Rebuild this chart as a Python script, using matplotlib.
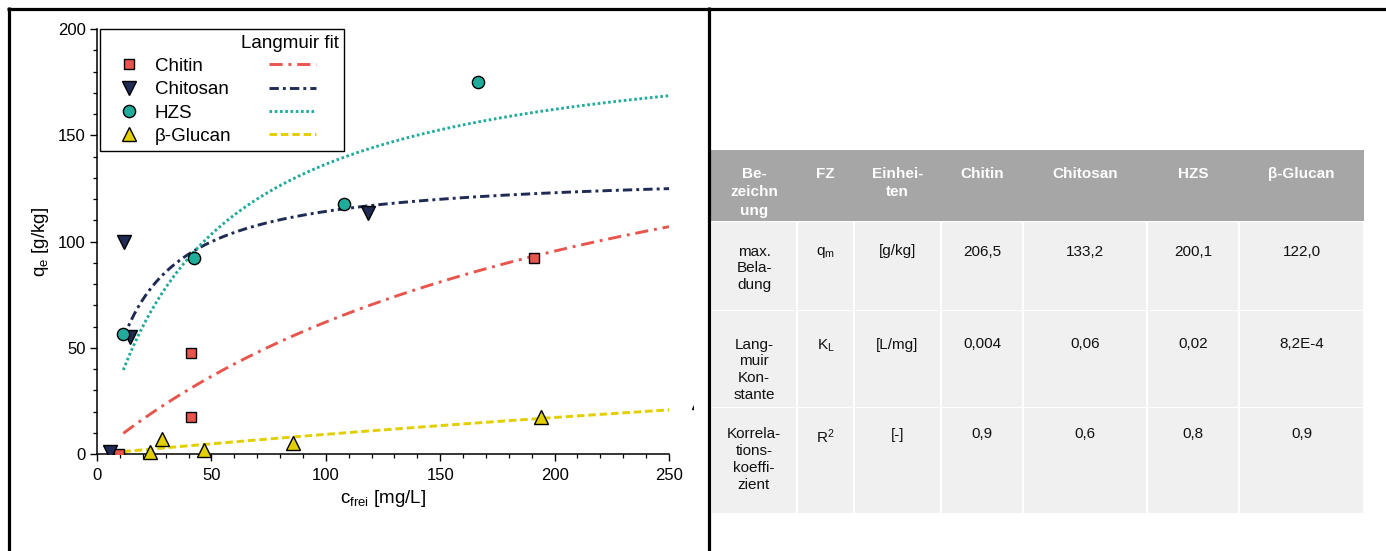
import numpy as np
import matplotlib
matplotlib.use("Agg")
import matplotlib.pyplot as plt
from matplotlib.lines import Line2D
from matplotlib.patches import Rectangle

plt.rcParams['font.family'] = ['Liberation Sans', 'DejaVu Sans']
plt.rcParams['mathtext.default'] = 'regular'

# measured adsorption data (c_frei in mg/L, q_e in g/kg)
chitin_c = [9.5, 41, 41, 191]
chitin_q = [0, 47.5, 17.5, 92.2]
chitosan_c = [5.7, 11.8, 14.4, 118.4]
chitosan_q = [1, 100, 55, 113.4]
hzs_c = [11.4, 42.4, 108, 166.4]
hzs_q = [56.5, 92.2, 117.6, 175]
glucan_c = [23.2, 28.5, 46.8, 85.5, 194, 263]
glucan_q = [1.1, 7, 1.8, 5.2, 17.6, 24.6]

names = ['Chitin', 'Chitosan', 'HZS', 'β-Glucan']
# langmuir parameters of the fit curves (table values are rounded)
q_max = [206.5, 133.2, 200.1, 122.0]
k_l = [0.0043, 0.06, 0.0214, 8.2e-4]

# table text
header = ['Be-\nzeichn\nung', 'FZ', 'Einhei-\nten', 'Chitin', 'Chitosan', 'HZS', 'β-Glucan']
row_names = ['max.\nBela-\ndung', 'Lang-\nmuir\nKon-\nstante', 'Korrela-\ntions-\nkoeffi-\nzient']
row_symbols = ['q$_m$', 'K$_L$', 'R$^2$']
row_units = ['[g/kg]', '[L/mg]', '[-]']
qm_text = ['206,5', '133,2', '200,1', '122,0']
kl_text = ['0,004', '0,06', '0,02', '8,2E-4']
r2_text = ['0,9', '0,6', '0,8', '0,9']

colors = ['#e8554d', '#1f2b55', '#21ab9b', '#e3cf00']
markers = ['s', 'v', 'o', '^']
msizes = [7.8, 9.5, 8.8, 10]
dashes = [(4.5, 2, 1, 2), (3.2, 1.4, 1, 1.4), (0.9, 0.9), (2.6, 1.3)]

W, H = 1386, 551
fig = plt.figure(figsize=(W / 100, H / 100), dpi=100)
ax = fig.add_axes([97 / W, 1 - 454 / H, 572 / W, 425 / H])

c_fit = np.linspace(11.5, 250, 300)
data_c = [chitin_c, chitosan_c, hzs_c, glucan_c]
data_q = [chitin_q, chitosan_q, hzs_q, glucan_q]

mk_handles = []
ln_handles = []
for i in range(4):
	fit = q_max[i] * k_l[i] * c_fit / (1 + k_l[i] * c_fit)
	ax.plot(c_fit, fit, color=colors[i], lw=2.1, dashes=dashes[i], zorder=2)
	pts, = ax.plot(data_c[i], data_q[i], ls='none', marker=markers[i], ms=msizes[i],
		mfc=colors[i], mec='black', mew=1, zorder=3)
	if i == 3:
		# last glucan point sits outside the axes, cut at the panel edge
		pts.set_clip_path(Rectangle((0, 0), 693 / W, 1, transform=fig.transFigure))
	mk_handles.append(Line2D([], [], ls='none', marker=markers[i], ms=msizes[i],
		mfc=colors[i], mec='black', mew=1))
	ln_handles.append(Line2D([], [], color=colors[i], lw=2.1, dashes=dashes[i]))

ax.set_xlim(0, 250)
ax.set_ylim(0, 200)
ax.set_xticks([0, 50, 100, 150, 200, 250])
ax.set_yticks([0, 50, 100, 150, 200])
ax.set_xticks(np.arange(0, 251, 10), minor=True)
ax.set_yticks(np.arange(0, 201, 10), minor=True)
ax.spines['top'].set_visible(False)
ax.spines['right'].set_visible(False)
ax.spines['left'].set_linewidth(1.1)
ax.spines['bottom'].set_linewidth(1.1)
ax.tick_params(which='major', length=5, width=1, labelsize=12)
ax.tick_params(which='minor', length=3, width=0.9)
ax.tick_params(axis='x', pad=5)
ax.tick_params(axis='y', pad=3)

ax.set_xlabel('c$_{frei}$ [mg/L]', fontsize=13.5)
ax.set_ylabel('q$_e$ [g/kg]', fontsize=13.5)
ax.xaxis.set_label_coords(0.5, -0.08)
ax.yaxis.set_label_coords(-0.08, 0.5)

leg = ax.legend(mk_handles + ln_handles, names + ['    '] * 4, ncol=2,
	title='Langmuir fit', alignment='right', loc='upper left',
	bbox_to_anchor=(0.005, 1.0), borderaxespad=0, fontsize=13.5, title_fontsize=13.5,
	handlelength=2.5, handletextpad=0.12, columnspacing=2.0, labelspacing=0.33,
	borderpad=0.3, fancybox=False, framealpha=1, edgecolor='black')
leg.get_frame().set_linewidth(1)

# table + frame in pixel coordinates
tab = fig.add_axes([0, 0, 1, 1], zorder=-1)
tab.set_xlim(0, W)
tab.set_ylim(H, 0)
tab.axis('off')

col_edges = [711, 797, 854, 941, 1023, 1147, 1239, 1364]
row_edges = [(222, 310), (311, 407), (408, 513)]
text_top = [244.5, 337.5, 427.5]

tab.add_patch(Rectangle((711, 150), 1364 - 711, 71, color='#a6a6a6', lw=0, zorder=1))
for j in range(7):
	xc = (col_edges[j] + col_edges[j + 1]) / 2
	tab.text(xc, 167, header[j], ha='center', va='top', color='white',
		fontsize=11, fontweight='bold', linespacing=1.4, zorder=2)

for r, (y0, y1) in enumerate(row_edges):
	vals = [row_names[r], row_symbols[r], row_units[r]] + [qm_text, kl_text, r2_text][r]
	for j in range(7):
		x0, x1 = col_edges[j], col_edges[j + 1]
		tab.add_patch(Rectangle((x0 + 1, y0), x1 - x0 - 2, y1 - y0, color='#f0f0f0', lw=0, zorder=3))
		tab.text((x0 + x1) / 2, text_top[r], vals[j], ha='center', va='top', color='#111111',
			fontsize=11, linespacing=1.27, zorder=4)

# outer frame lines
tab.plot([7, W], [8.5, 8.5], color='black', lw=2.3, solid_capstyle='butt')
tab.plot([8.5, 8.5], [7, H], color='black', lw=2.3, solid_capstyle='butt')
tab.plot([708.5, 708.5], [7, H], color='black', lw=2.3, solid_capstyle='butt')

plt.savefig('out.png', dpi=100)
